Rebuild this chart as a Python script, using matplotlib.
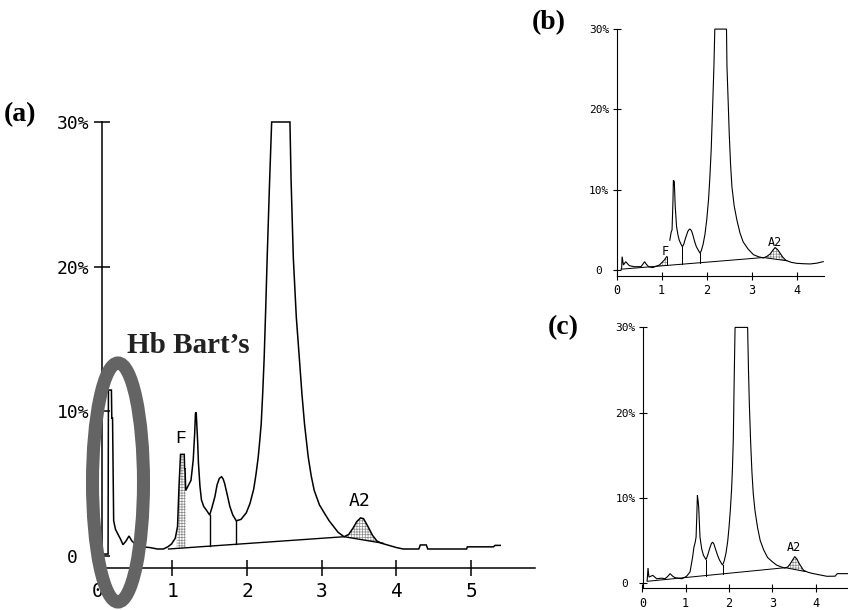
import numpy as np
import matplotlib
matplotlib.use("Agg")
import matplotlib.pyplot as plt
from matplotlib.patches import Ellipse

plt.rcParams['font.family'] = ['DejaVu Sans Mono']
plt.rcParams['hatch.linewidth'] = 0.5

# ---------------- data ----------------
y_ticks = [0, 10, 20, 30]
y_tick_labels = ["0 ", "10%", "20%", "30%"]

# panel (a)
a_x = [0.07, 0.14, 0.145, 0.185, 0.19, 0.20, 0.215, 0.24, 0.27, 0.31, 0.34, 0.38, 0.42, 0.46,
       0.51, 0.60, 0.70, 0.80, 0.88, 0.94, 0.99, 1.04, 1.07, 1.09, 1.11, 1.16, 1.165, 1.17,
       1.18, 1.21, 1.25, 1.28, 1.30, 1.31, 1.32, 1.34, 1.35, 1.37, 1.39, 1.42, 1.455, 1.50,
       1.53, 1.57, 1.60, 1.63, 1.66, 1.68, 1.70, 1.74, 1.77, 1.81, 1.857, 1.92, 1.99, 2.04,
       2.09, 2.12, 2.15, 2.17, 2.19, 2.21, 2.23, 2.25, 2.27, 2.30, 2.33, 2.575, 2.59, 2.62,
       2.66, 2.70, 2.735, 2.77, 2.82, 2.86, 2.90, 2.97, 3.04, 3.10, 3.16, 3.22, 3.30, 3.36,
       3.42, 3.47, 3.52, 3.56, 3.62, 3.68, 3.74, 3.80, 3.90, 4.00, 4.09, 4.30, 4.32, 4.40,
       4.42, 4.94, 4.95, 5.30, 5.32, 5.39]
a_y = [0.1, 0.1, 11.45, 11.45, 9.5, 9.5, 2.4, 1.8, 1.5, 1.1, 0.75, 1.0, 1.35, 1.0,
       0.75, 0.6, 0.55, 0.45, 0.45, 0.6, 0.8, 1.2, 2.0, 4.8, 7.0, 7.0, 6.0, 6.0,
       4.5, 4.8, 5.2, 6.6, 8.5, 9.85, 9.9, 7.8, 6.4, 4.8, 3.85, 3.4, 3.15, 2.8,
       3.3, 4.07, 4.9, 5.34, 5.45, 5.3, 5.0, 4.1, 3.4, 2.8, 2.4, 2.5, 2.95, 3.6,
       4.6, 5.6, 6.8, 7.9, 9.1, 11.2, 13.7, 17.0, 20.6, 25.5, 30.0, 30.0, 26.0, 20.6,
       16.5, 13.7, 11.2, 9.1, 6.8, 5.5, 4.5, 3.5, 2.9, 2.4, 2.0, 1.6, 1.3, 1.45,
       1.9, 2.35, 2.6, 2.55, 2.0, 1.4, 1.0, 0.85, 0.7, 0.55, 0.45, 0.45, 0.73, 0.73,
       0.45, 0.45, 0.6, 0.6, 0.7, 0.7]
a_base_x = [0.95, 3.30, 3.82]
a_base_y = [0.45, 1.3, 0.85]
a_drops = [1.50, 1.857]
a_f_span = [1.06, 1.18]
a_a2_span = [3.30, 3.80]
a_xticks = [0, 1, 2, 3, 4, 5]

# panel (b)
b_x1 = [0.10, 0.11, 0.12, 0.15, 0.20, 0.28, 0.39, 0.54, 0.58, 0.62, 0.66, 0.71, 0.80, 0.95,
        1.06, 1.11, 1.12]
b_y1 = [0.10, 0.25, 1.66, 0.62, 1.03, 0.54, 0.41, 0.41, 0.7, 1.03, 0.7, 0.41, 0.30, 0.62,
        1.25, 1.66, 1.66]
b_x2 = [1.18, 1.21, 1.23, 1.25, 1.26, 1.28, 1.30, 1.33, 1.36, 1.39, 1.43, 1.46, 1.49, 1.52,
        1.55, 1.58, 1.61, 1.63, 1.66, 1.68, 1.71, 1.74, 1.77, 1.80, 1.85, 1.88, 1.92, 1.96,
        2.00, 2.04, 2.07, 2.10, 2.13, 2.16, 2.18, 2.44, 2.45, 2.48, 2.50, 2.53, 2.56, 2.61,
        2.67, 2.74, 2.81, 2.92, 3.04, 3.15, 3.26, 3.34, 3.41, 3.47, 3.52, 3.58, 3.63, 3.69,
        3.76, 3.88, 4.00, 4.15, 4.30, 4.45, 4.59]
b_y2 = [3.7, 4.7, 5.0, 8.5, 11.2, 11.0, 8.0, 5.4, 4.4, 3.7, 3.2, 2.9, 3.2, 3.8,
        4.3, 4.8, 5.05, 5.1, 4.9, 4.6, 4.0, 3.4, 2.9, 2.6, 2.1, 2.4, 3.2, 4.4,
        6.2, 8.7, 11.5, 15.0, 20.0, 25.3, 30.0, 30.0, 25.4, 20.5, 17.1, 13.2, 10.4, 8.0,
        6.25, 4.6, 3.5, 2.6, 1.9, 1.65, 1.5, 1.7, 2.0, 2.45, 2.8, 2.5, 2.1, 1.6,
        1.2, 0.95, 0.83, 0.78, 0.75, 0.85, 1.04]
b_base_x = [0.10, 3.26, 3.78]
b_base_y = [0.10, 1.55, 1.15]
b_drops = [1.12, 1.46, 1.85]
b_f_span = [0.95, 1.12]
b_a2_span = [3.26, 3.76]
b_xticks = [0, 1, 2, 3, 4]

# panel (c)
c_x = [0.11, 0.13, 0.15, 0.24, 0.33, 0.445, 0.52, 0.58, 0.64, 0.70, 0.75, 0.91, 1.02, 1.10,
       1.16, 1.19, 1.22, 1.24, 1.26, 1.27, 1.29, 1.30, 1.33, 1.37, 1.41, 1.47, 1.51, 1.55,
       1.59, 1.62, 1.65, 1.70, 1.74, 1.78, 1.85, 1.89, 1.93, 1.97, 2.00, 2.03, 2.06, 2.08,
       2.10, 2.12, 2.14, 2.43, 2.45, 2.47, 2.50, 2.53, 2.56, 2.60, 2.66, 2.72, 2.80, 2.89,
       3.00, 3.10, 3.20, 3.29, 3.36, 3.42, 3.48, 3.52, 3.57, 3.62, 3.67, 3.72, 3.83, 3.95,
       4.10, 4.26, 4.40, 4.45, 4.50, 4.74]
c_y = [0.3, 1.76, 0.7, 0.9, 0.5, 0.57, 0.5, 0.75, 1.1, 0.8, 0.63, 0.5, 0.79, 1.3,
       3.05, 4.2, 4.8, 5.4, 8.5, 10.3, 9.5, 8.9, 5.4, 4.0, 3.25, 2.75, 3.3, 4.0,
       4.6, 4.8, 4.6, 3.8, 3.2, 2.7, 2.1, 2.6, 3.5, 4.9, 6.5, 8.5, 11.0, 13.5,
       17.0, 24.0, 30.0, 30.0, 25.0, 21.0, 16.5, 13.0, 10.5, 8.5, 6.5, 5.0, 3.9, 3.0,
       2.5, 2.1, 1.9, 1.75, 1.9, 2.3, 2.8, 3.1, 2.8, 2.3, 1.9, 1.5, 1.25, 1.1,
       0.95, 0.79, 0.8, 0.8, 1.1, 1.1]
c_base_x = [0.11, 3.30, 3.76]
c_base_y = [0.2, 1.8, 1.35]
c_drops = [1.47, 1.85]
c_a2_span = [3.30, 3.74]
c_xticks = [0, 1, 2, 3, 4]

W, H = 848, 610
fig = plt.figure(figsize=(W / 100, H / 100), dpi=100)
fig.patch.set_facecolor('white')


def px_axes(left, right, top, bottom):
    return fig.add_axes([left / W, 1 - bottom / H, (right - left) / W, (bottom - top) / H])


def draw_panel(ax, segs, base_x, base_y, drops, spans, xlim, ylim, spine_x, xticks,
               lw, fs_y, fs_x, tick_len, ypad, xpad):
    ax.set_xlim(*xlim)
    ax.set_ylim(*ylim)
    ax.patch.set_alpha(0)
    allx = np.concatenate([np.asarray(s[0]) for s in segs])
    ally = np.concatenate([np.asarray(s[1]) for s in segs])
    for s0, s1 in spans:
        gx = np.linspace(s0, s1, 300)
        ax.fill_between(gx, np.interp(gx, base_x, base_y), np.interp(gx, allx, ally),
                        facecolor='white', edgecolor='#8a8a8a', hatch='++++++', lw=0)
    for sx, sy in segs:
        ax.plot(sx, sy, color='black', lw=lw, solid_joinstyle='miter')
    ax.plot(base_x, base_y, color='black', lw=lw * 0.9)
    for d in drops:
        ax.plot([d, d], [np.interp(d, base_x, base_y), np.interp(d, allx, ally)],
                color='black', lw=lw * 0.9)
    for k in ['top', 'right']:
        ax.spines[k].set_visible(False)
    ax.spines['left'].set_position(('data', spine_x))
    ax.spines['left'].set_bounds(ylim[0], 30)
    ax.spines['bottom'].set_bounds(spine_x, xlim[1])
    for k in ['left', 'bottom']:
        ax.spines[k].set_linewidth(lw)
    ax.set_yticks(y_ticks)
    ax.set_yticklabels(y_tick_labels)
    ax.set_xticks(xticks)
    ax.set_xticklabels([str(t) for t in xticks])
    ax.tick_params(axis='y', direction='inout', length=tick_len, width=lw, pad=ypad,
                   labelsize=fs_y)
    ax.tick_params(axis='x', direction='inout', length=tick_len, width=lw, pad=xpad,
                   labelsize=fs_x)


# panel (a)
axa = px_axes(97.6, 97.6 + 74.7 * 5.86, 555.5 - 14.45 * 30.2, 568)
draw_panel(axa, [(a_x, a_y)], a_base_x, a_base_y, a_drops, [a_f_span, a_a2_span],
           (0, 5.86), (-0.865, 30.2), 0.055, a_xticks, 1.1, 13, 14, 11, 3.5, 4.5)
axa.text(1.116, 8.13, "F", fontsize=13, family='Liberation Mono', ha='center', va='center')
axa.text(3.51, 3.77, "A2", fontsize=13, ha='center', va='center')

# panel (b)
axb = px_axes(616.7, 616.7 + 45 * 4.6, 270 - 8.03 * 30.2, 276)
draw_panel(axb, [(b_x1, b_y1), (b_x2, b_y2)], b_base_x, b_base_y, b_drops,
           [b_f_span, b_a2_span], (0, 4.6), (-0.75, 30.2), 0.0, b_xticks, 0.8, 8, 8.5,
           6, 2.5, 2.5)
axb.text(1.08, 2.24, "F", fontsize=8.5, ha='center', va='center')
axb.text(3.52, 3.36, "A2", fontsize=8.5, ha='center', va='center')

# panel (c)
axc = px_axes(642.4, 642.4 + 43.3 * 4.74, 582.7 - 8.51 * 30.2, 588.3)
draw_panel(axc, [(c_x, c_y)], c_base_x, c_base_y, c_drops, [c_a2_span],
           (0.0, 4.74), (-0.62, 30.2), 0.02, c_xticks, 0.8, 8, 8.5, 6, 2.5, 3)
axc.text(3.50, 4.14, "A2", fontsize=8.5, ha='center', va='center')

# annotations
serif = ['Liberation Serif', 'DejaVu Serif']
fig.text(19.7 / W, 1 - 115 / H, "(a)", fontsize=20, fontweight='bold', family=serif,
         ha='center', va='center')
fig.text(549 / W, 1 - 23 / H, "(b)", fontsize=20, fontweight='bold', family=serif,
         ha='center', va='center')
fig.text(563 / W, 1 - 327.5 / H, "(c)", fontsize=20, fontweight='bold', family=serif,
         ha='center', va='center')
fig.text(127 / W, 1 - 352.7 / H, "Hb Bart’s", fontsize=21, fontweight='bold', family=serif,
         ha='left', va='baseline', color='#222222')

ell = Ellipse((118 / W, 1 - 482.5 / H), 51 / W, 239 / H, transform=fig.transFigure,
              fill=False, edgecolor='#646464', lw=9.4, zorder=10)
fig.add_artist(ell)

fig.savefig("out.png", dpi=100, facecolor='white')
